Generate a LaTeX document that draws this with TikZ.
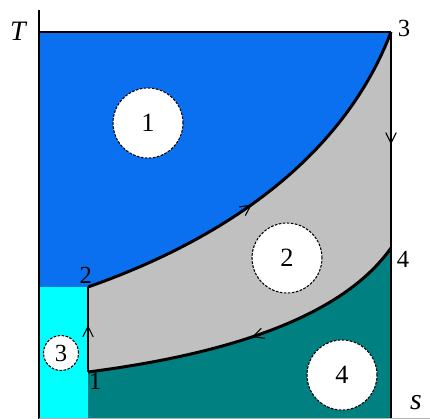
\documentclass[tikz,border=0pt]{standalone}
\usepackage{fontspec}
\setmainfont{Liberation Serif}
\usetikzlibrary{arrows.meta,decorations.markings}
\definecolor{zoneblue}{RGB}{10,112,240}
\definecolor{zonecyan}{RGB}{0,255,255}
\definecolor{zonegray}{RGB}{192,192,192}
\definecolor{zoneteal}{RGB}{0,128,128}

\begin{document}
\begin{tikzpicture}[x=0.02cm, y=-0.02cm,
    proc/.style={line width=1.7pt},
    thin line/.style={line width=0.6pt},
    zone/.style={circle, draw, dash pattern=on 1.5pt off 0.8pt, line width=0.6pt,
        fill=white, minimum size=1.4cm, inner sep=0pt,
        font=\fontsize{15}{17}\selectfont},
    small zone/.style={zone, minimum size=0.7cm, font=\fontsize{14}{16}\selectfont},
    lbl/.style={font=\fontsize{14}{16}\selectfont, inner sep=1pt},
    dir/.style={postaction={decorate, decoration={markings,
        mark=at position #1 with {\arrow[line width=0.6pt]{Straight Barb[length=6pt, width=6pt]}}}}}
]
    \useasboundingbox (0,0) rectangle (430,419);
    % state points
    \coordinate (p1) at (88,372);
    \coordinate (p2) at (88,287);
    \coordinate (p3) at (391,32);
    \coordinate (p4) at (391,248);
    \coordinate (tl) at (39,32);
    \coordinate (axtop) at (39,10);
    \coordinate (axbot) at (39,419);
    \coordinate (bl) at (39,287);
    \coordinate (br) at (391,419);
    \coordinate (sb) at (88,419);
    \coordinate (send) at (430,418);

    % areas
    \fill[zoneblue] (tl) -- (p3) .. controls (350,140) and (250,230) .. (p2) -- (bl) -- cycle;
    \fill[zonecyan] (bl) rectangle (sb);
    \fill[zonegray] (p2) .. controls (250,230) and (350,140) .. (p3) -- (p4)
        .. controls (340,320) and (220,355) .. (p1) -- cycle;
    \fill[zoneteal] (p1) .. controls (220,355) and (340,320) .. (p4) -- (br) -- (sb) -- cycle;

    % axes
    \draw[thin line] (axtop) -- (axbot);
    \draw[thin line] (tl) -- (p3);
    \draw[thin line] (p4) -- (br);
    \draw[line width=0.3pt, gray!60] (axbot |- send) -- (send);

    % cycle
    \draw[proc, dir=0.45] (p2) .. controls (250,230) and (350,140) .. (p3);
    \draw[proc, dir=0.52] (p3) -- (p4);
    \draw[proc, dir=0.5] (p4) .. controls (340,320) and (220,355) .. (p1);
    \draw[proc, dir=0.55] (p1) -- (p2);

    % zones
    \node[zone] (zone1) at (148,123) {1};
    \node[zone] (zone2) at (287,258) {2};
    \node[small zone] (zone3) at (61,353) {3};
    \node[zone] (zone4) at (342,375) {4};

    % labels
    \node[lbl, font=\fontsize{16}{18}\selectfont\itshape] (tlabel) at (18,31) {T};
    \node[lbl, font=\fontsize{17}{19}\selectfont\itshape] (slabel) at (416,403) {s};
    \node[lbl, above left=0pt] (l2) at (94,286) {2};
    \node[lbl, below right=0pt] (l1) at (87,371) {1};
    \node[lbl] (l3) at (404,28) {3};
    \node[lbl] (l4) at (403,259) {4};
\end{tikzpicture}
\end{document}
